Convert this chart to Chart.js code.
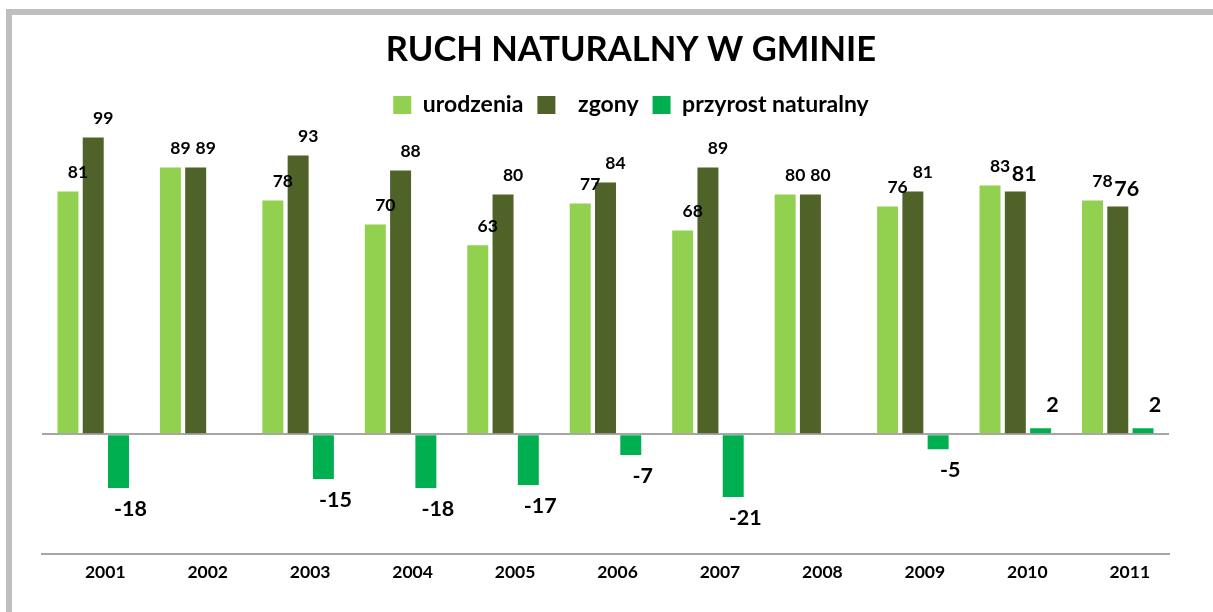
<!DOCTYPE html>
<html><head><meta charset="utf-8">
<script src="https://cdn.jsdelivr.net/npm/chart.js@4"></script>
<style>
html,body{margin:0;padding:0;background:#fff;overflow:hidden;width:1213px;height:612px;}
#wrap{position:absolute;left:0;top:0;width:1213px;height:612px;overflow:hidden;}
#frame{position:absolute;left:6px;top:9px;width:1240px;height:640px;border-left:6px solid #BFBFBF;border-top:6px solid #BFBFBF;box-sizing:border-box;}
#c{position:absolute;left:0;top:0;}
</style></head>
<body>
<div id="wrap"><div id="frame"></div><canvas id="c" width="1262" height="612"></canvas></div>
<script>
const categories = ['2001','2002','2003','2004','2005','2006','2007','2008','2009','2010','2011'];
const urodzenia = [81, 89, 78, 70, 63, 77, 68, 80, 76, 83, 78];
const zgony = [99, 89, 93, 88, 80, 84, 89, 80, 81, 81, 76];
const przyrost = [-18, 0, -15, -18, -17, -7, -21, 0, -5, 2, 2];
const seriesNames = ['urodzenia', 'zgony', 'przyrost naturalny'];
const titleText = 'RUCH NATURALNY W GMINIE';

const FONT = 'Lato';

const valueLabels = {
  id: 'valueLabels',
  afterDatasetsDraw(chart, args, opts) {
    const ctx = chart.ctx;
    ctx.save();
    ctx.fillStyle = '#000';
    ctx.textAlign = 'center';
    ctx.textBaseline = 'middle';
    chart.data.datasets.forEach((ds, di) => {
      const meta = chart.getDatasetMeta(di);
      const st = opts.styles[di];
      meta.data.forEach((bar, i) => {
        const v = ds.data[i];
        if (!v) return;
        const big = st.big || (st.bigIdx && st.bigIdx.includes(i));
        const size = big ? opts.bigSize : opts.size;
        ctx.font = 'bold ' + size + 'px ' + FONT;
        const dx = big ? st.bigDx : st.dx;
        let y;
        if (v >= 0) y = bar.y - (big ? st.bigUp : st.up);
        else y = bar.y + st.down;
        ctx.fillText(String(v), bar.x + dx, y);
      });
    });
    ctx.restore();
  }
};

const chart = new Chart(document.getElementById('c'), {
  type: 'bar',
  data: {
    labels: categories,
    datasets: [
      { label: seriesNames[0], data: urodzenia, backgroundColor: '#92D050', categoryPercentage: 0.74, barPercentage: 0.83 },
      { label: seriesNames[1], data: zgony, backgroundColor: '#4F6228', categoryPercentage: 0.74, barPercentage: 0.83 },
      { label: seriesNames[2], data: przyrost, backgroundColor: '#00B050', categoryPercentage: 0.74, barPercentage: 0.83 }
    ]
  },
  plugins: [valueLabels],
  options: {
    responsive: false,
    animation: false,
    layout: { padding: { left: 0, right: 0, top: 0, bottom: 21 } },
    plugins: {
      tooltip: { enabled: false },
      title: {
        display: true, text: titleText, color: '#000',
        font: { family: FONT, weight: 'bold', size: 34.5, lineHeight: 1.2 },
        padding: { top: 29.3, bottom: 8.8 }
      },
      legend: {
        display: true, position: 'top',
        labels: {
          boxWidth: 18, boxHeight: 18, padding: 14, color: '#000',
          font: { family: FONT, weight: 'bold', size: 23 },
          generateLabels(ch) {
            const items = Chart.defaults.plugins.legend.labels.generateLabels(ch);
            items.forEach(it => { it.lineWidth = 0; if (it.datasetIndex === 1) it.text = '  ' + it.text; });
            return items;
          }
        }
      },
      valueLabels: {
        size: 17.5, bigSize: 21.5,
        styles: [
          { dx: 10, up: 19, down: 21 },
          { dx: 10, up: 19, down: 21, bigIdx: [9, 10], bigDx: 9, bigUp: 17 },
          { big: true, bigDx: 12, dx: 12, up: 23, bigUp: 23, down: 21 }
        ]
      }
    },
    scales: {
      x: {
        grid: { display: false, drawTicks: false },
        border: { display: true, color: '#A6A6A6', width: 2 },
        ticks: { color: '#000', font: { family: FONT, weight: 'bold', size: 17.5 }, labelOffset: 12, padding: 8, maxRotation: 0, autoSkip: false }
      },
      xTop: {
        type: 'category', position: 'top', display: true,
        grid: { display: false, drawTicks: false },
        border: { display: false },
        ticks: { display: false },
        afterFit(s) { s.height = 8; }
      },
      y: {
        min: -40, max: 100,
        ticks: { display: false, stepSize: 20 },
        grid: { drawTicks: false, lineWidth: 2, color: c => c.tick && c.tick.value === 0 ? '#A6A6A6' : 'rgba(0,0,0,0)' },
        border: { display: false },
        afterFit(s) { s.width = 42; }
      },
      yRight: {
        type: 'linear', position: 'right', display: true,
        grid: { display: false, drawTicks: false },
        border: { display: false },
        ticks: { display: false },
        afterFit(s) { s.width = 93; }
      }
    }
  }
});
</script>
</body></html>
